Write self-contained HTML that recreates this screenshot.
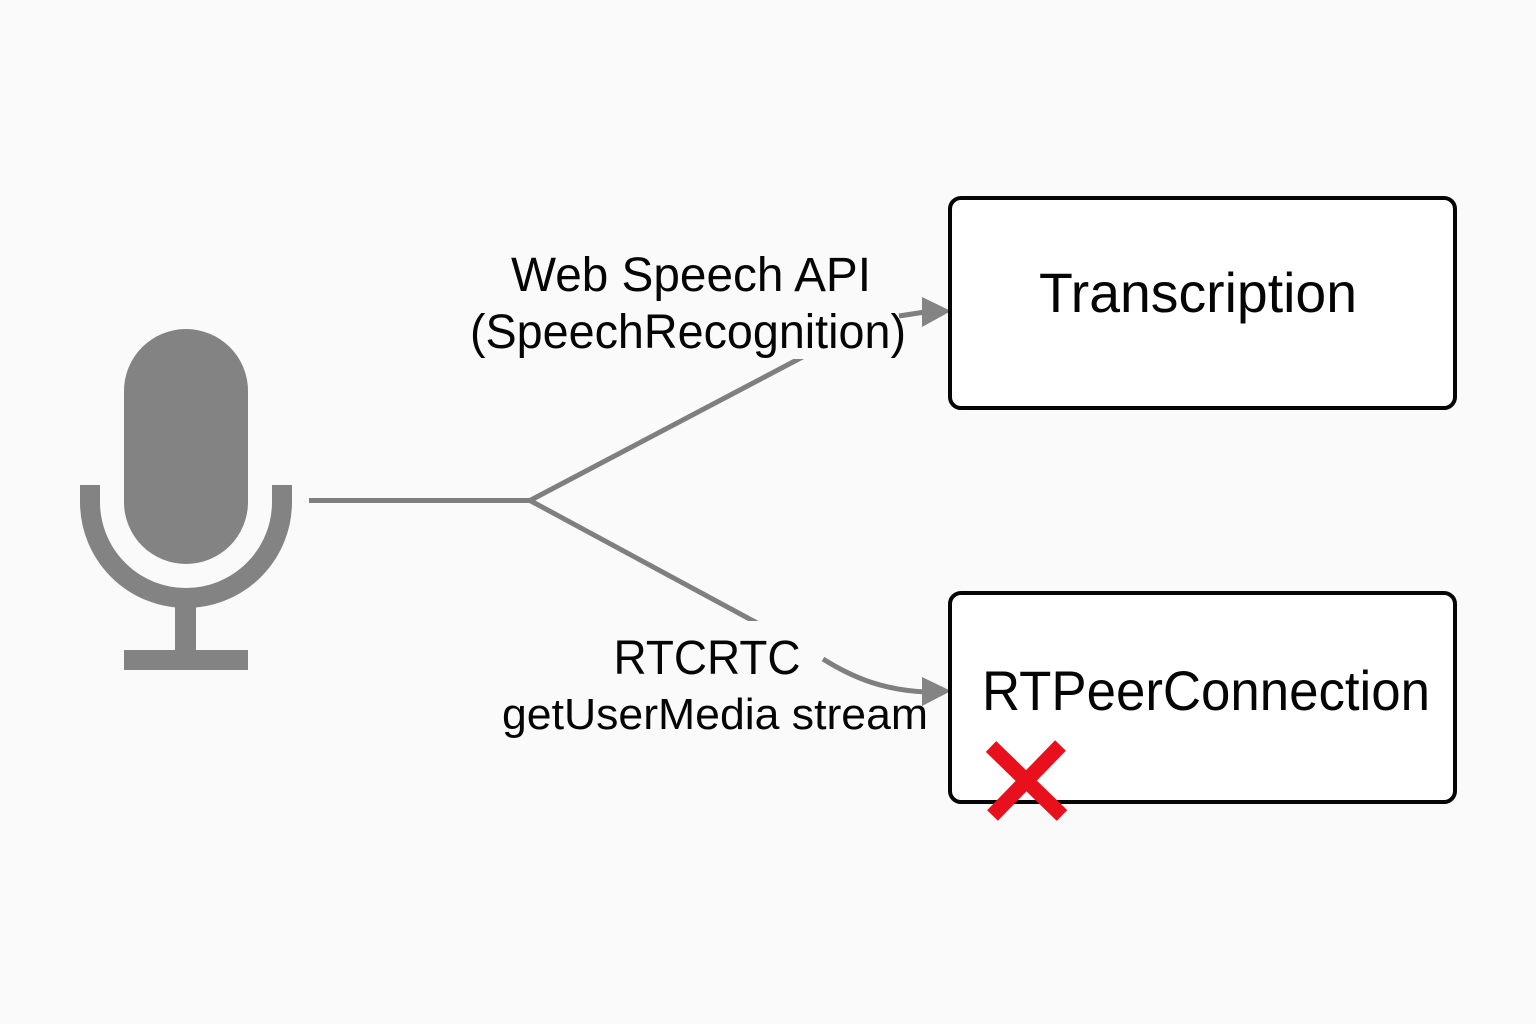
<!DOCTYPE html>
<html><head><meta charset="utf-8"><style>html,body{margin:0;padding:0;background:#fafafa}svg{display:block}text{font-family:"Liberation Sans",sans-serif;fill:#050505}</style></head><body>
<svg width="1536" height="1024" viewBox="0 0 1536 1024" xmlns="http://www.w3.org/2000/svg">
<defs>
<clipPath id="up"><rect x="500" y="359" width="340" height="160"/></clipPath>
<clipPath id="down"><rect x="500" y="480" width="300" height="141"/></clipPath>
</defs>
<rect width="1536" height="1024" fill="#fafafa"/>
<!-- mic -->
<rect x="124" y="329" width="124" height="235" rx="62" fill="#838383"/>
<path d="M90 485 V502 A96 96 0 0 0 282 502 V485" fill="none" stroke="#838383" stroke-width="20"/>
<rect x="175" y="600" width="21" height="55" fill="#838383"/>
<rect x="124" y="650" width="124" height="20" fill="#838383"/>
<!-- connectors -->
<g fill="none" stroke="#7f7f7f" stroke-width="5">
<path d="M309 500.5 H530"/>
<path d="M530 500.5 L812 352" clip-path="url(#up)"/>
<path d="M530 500.5 L770 630" clip-path="url(#down)"/>
<path d="M823 659 C855 679 885 690 925 692" stroke-width="5"/>
<path d="M899 316 L925 312" stroke-width="5"/>
</g>
<polygon points="922,297 951,311 922,327" fill="#848484"/>
<polygon points="922,677 951,691 922,706" fill="#848484"/>
<!-- boxes -->
<rect x="950" y="198" width="505" height="210" rx="11" fill="#fff" stroke="#050505" stroke-width="4"/>
<rect x="950" y="593" width="505" height="209" rx="11" fill="#fff" stroke="#050505" stroke-width="4"/>
<!-- x -->
<g stroke="#e8101c" stroke-width="15"><path d="M991 746.5 L1062 815.5"/><path d="M1060.5 745.5 L992.5 815.5"/></g>
<!-- text -->
<text x="691" y="291" font-size="48" text-anchor="middle" textLength="360" lengthAdjust="spacingAndGlyphs">Web Speech API</text>
<text x="688" y="348" font-size="48" text-anchor="middle" textLength="436" lengthAdjust="spacingAndGlyphs">(SpeechRecognition)</text>
<text x="707" y="674" font-size="48" text-anchor="middle" textLength="187" lengthAdjust="spacingAndGlyphs">RTCRTC</text>
<text x="715" y="729" font-size="44" text-anchor="middle" textLength="426" lengthAdjust="spacingAndGlyphs">getUserMedia stream</text>
<text x="1198" y="312" font-size="56" text-anchor="middle" textLength="318" lengthAdjust="spacingAndGlyphs">Transcription</text>
<text x="1206" y="710" font-size="56" text-anchor="middle" textLength="448" lengthAdjust="spacingAndGlyphs">RTPeerConnection</text>
</svg>
</body></html>
